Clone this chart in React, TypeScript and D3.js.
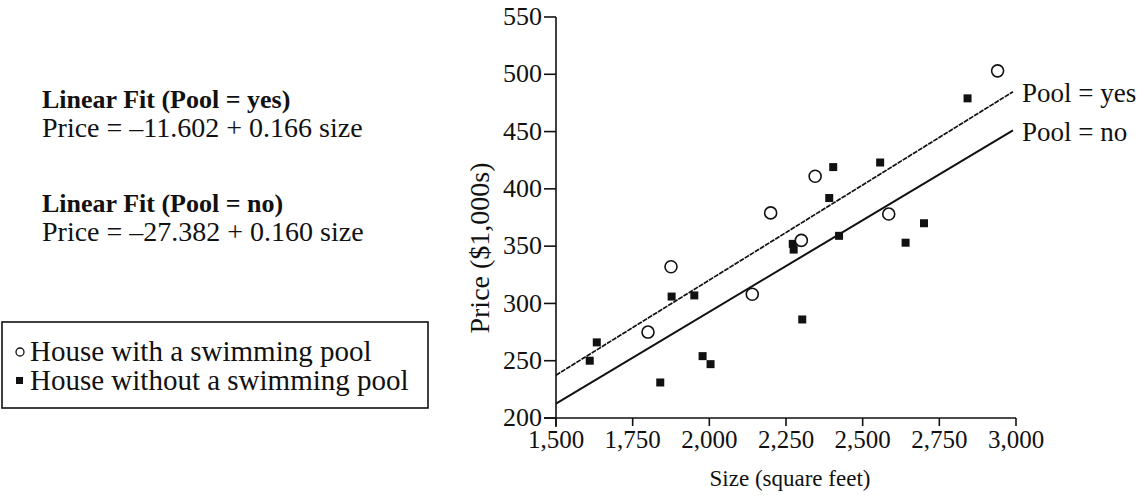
import React from 'react';
import * as d3 from 'd3';

// houses with a pool (circles)
const poolSize = [1800, 1875, 2140, 2200, 2300, 2345, 2585, 2940];
const poolPrice = [275, 332, 308, 379, 355, 411, 378, 503];

// houses without a pool (squares)
const noPoolSize = [1610, 1633, 1840, 1877, 1951, 1978, 2004, 2272, 2275, 2303, 2391, 2404, 2423, 2557, 2640, 2700, 2842];
const noPoolPrice = [250, 266, 231, 306, 307, 254, 247, 352, 347, 286, 392, 419, 359, 423, 353, 370, 479];

// fitted lines: price = a + b * size
const fitYes = { a: -11.602, b: 0.166, label: 'Pool = yes' };
const fitNo = { a: -27.382, b: 0.16, label: 'Pool = no' };
const fitEnd = 2990;

const xTicks = [1500, 1750, 2000, 2250, 2500, 2750, 3000];
const yTicks = [200, 250, 300, 350, 400, 450, 500, 550];

const W = 1146;
const H = 500;
const font = '"Liberation Serif", "Times New Roman", serif';

export default function App() {
  const x = d3.scaleLinear().domain([1500, 3000]).range([556, 1016]);
  const y = d3.scaleLinear().domain([200, 550]).range([418, 17]);
  const fmt = d3.format(',');

  const fitLine = (f: { a: number; b: number }) =>
    d3.line<number>()
      .x(s => x(s))
      .y(s => y(f.a + f.b * s))([1500, fitEnd]) as string;

  return (
    <svg width={W} height={H} style={{ position: 'absolute', left: 0, top: 0, background: '#fff' }} fontFamily={font}>
      {/* left side text */}
      <g fill="#111">
        <text x={42} y={108} fontSize={26} fontWeight="bold">Linear Fit (Pool = yes)</text>
        <text x={42} y={137} fontSize={28}>Price = –11.602 + 0.166 size</text>
        <text x={42} y={212} fontSize={26} fontWeight="bold">Linear Fit (Pool = no)</text>
        <text x={42} y={241} fontSize={28}>Price = –27.382 + 0.160 size</text>
      </g>

      {/* legend */}
      <rect x={2} y={322} width={426} height={86} fill="none" stroke="#111" strokeWidth={1.6} />
      <circle cx={20} cy={352} r={4} fill="none" stroke="#111" strokeWidth={1.3} />
      <rect x={16} y={377} width={7} height={7} fill="#111" />
      <g fontSize={29} fill="#111">
        <text x={30} y={361}>House with a swimming pool</text>
        <text x={30} y={390}>House without a swimming pool</text>
      </g>

      {/* axes */}
      <g stroke="#111" strokeWidth={1.6}>
        <line x1={x(1500)} x2={x(1500)} y1={y(550)} y2={427} />
        <line x1={x(1500) - 12} x2={x(3000)} y1={y(200)} y2={y(200)} />
        {yTicks.map(t => (
          <line key={t} x1={x(1500) - 12} x2={x(1500)} y1={y(t)} y2={y(t)} />
        ))}
        {xTicks.map(t => (
          <line key={t} x1={x(t)} x2={x(t)} y1={y(200)} y2={y(200) + 8} />
        ))}
      </g>
      <g fontSize={26} fill="#111">
        {yTicks.map(t => (
          <text key={t} x={x(1500) - 14} y={y(t) - 1} dy="0.35em" textAnchor="end">{t}</text>
        ))}
      </g>
      <g fontSize={25} fill="#111">
        {xTicks.map(t => (
          <text key={t} x={x(t)} y={448} textAnchor="middle">{fmt(t)}</text>
        ))}
      </g>
      <text x={790} y={486} fontSize={23} textAnchor="middle" fill="#111">Size (square feet)</text>
      <text transform={`translate(489,248) rotate(-90)`} fontSize={28} textAnchor="middle" fill="#111">Price ($1,000s)</text>

      {/* fitted lines */}
      <path d={fitLine(fitYes)} fill="none" stroke="#111" strokeWidth={1.7} strokeDasharray="5 1" />
      <path d={fitLine(fitNo)} fill="none" stroke="#111" strokeWidth={2} />
      <g fontSize={27} fill="#111">
        <text x={1022} y={y(fitYes.a + fitYes.b * fitEnd) + 1} dy="0.35em">{fitYes.label}</text>
        <text x={1022} y={y(fitNo.a + fitNo.b * fitEnd) + 1} dy="0.35em">{fitNo.label}</text>
      </g>

      {/* points */}
      {noPoolSize.map((s, i) => (
        <rect key={'n' + i} x={x(s) - 4} y={y(noPoolPrice[i]) - 4} width={8} height={8} fill="#111" />
      ))}
      {poolSize.map((s, i) => (
        <circle key={'p' + i} cx={x(s)} cy={y(poolPrice[i])} r={6} fill="#fff" stroke="#111" strokeWidth={1.6} />
      ))}
    </svg>
  );
}
